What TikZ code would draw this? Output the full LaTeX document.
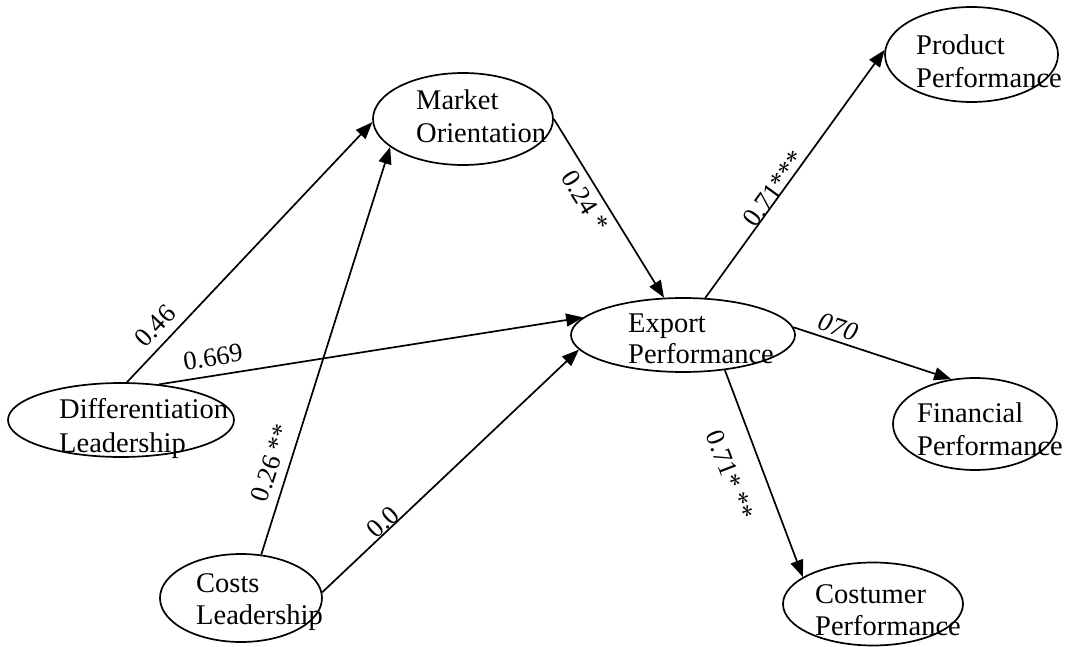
\documentclass[tikz,border=0pt]{standalone}
\usepackage{fontspec}
\setmainfont{Liberation Serif}
\usetikzlibrary{shapes.geometric,arrows.meta}
\begin{document}
\begin{tikzpicture}[x=1pt,y=-1pt,
  ell/.style={draw, ellipse, line width=1.7pt, inner sep=0pt},
  txt/.style={anchor=base west, inner sep=0pt, font=\fontsize{28.5}{33}\selectfont},
  lbl/.style={inner sep=0pt, font=\fontsize{26.5}{30}\selectfont},
  arr/.style={line width=1.7pt, -{Triangle[length=17pt,width=13pt]}}]
\fill[white] (0,0) rectangle (1071,647);
\useasboundingbox (0,0) rectangle (1071,647);
% ellipses
\node[ell, minimum width=180pt, minimum height=92pt] (M) at (463,119) {};
\node[ell, minimum width=173pt, minimum height=95pt] (P) at (971.5,54.5) {};
\node[ell, minimum width=224pt, minimum height=74pt] (E) at (683,335) {};
\node[ell, minimum width=226pt, minimum height=74pt] (D) at (121,420) {};
\node[ell, minimum width=164pt, minimum height=92pt] (F) at (975,424) {};
\node[ell, minimum width=162pt, minimum height=88pt] (C) at (241,598) {};
\node[ell, minimum width=180pt, minimum height=83pt] (U) at (873,604) {};
% texts
\node[txt] (m1) at (416,110) {Market};
\node[txt] (m2) at (416,143) {Orientation};
\node[txt] (p1) at (916,55) {Product};
\node[txt] (p2) at (916,88) {Performance};
\node[txt] (e1) at (628,332) {Export};
\node[txt] (e2) at (628,363) {Performance};
\node[txt] (d1) at (59,418) {Differentiation};
\node[txt] (d2) at (59,452) {Leadership};
\node[txt] (f1) at (917,422) {Financial};
\node[txt] (f2) at (917,455) {Performance};
\node[txt] (c1) at (196,592) {Costs};
\node[txt] (c2) at (196,624) {Leadership};
\node[txt] (u1) at (815,603) {Costumer};
\node[txt] (u2) at (815,635) {Performance};
% connectors
\draw[arr] (D.81) -- (M.182);
\draw[arr] (D.43) -- (E.170);
\draw[arr] (C.65) -- (M.201);
\draw[arr] (C.4) -- (E.188);
\draw[arr] (M.0) -- (E.117);
\draw[arr] (E.59) -- (P.177);
\draw[arr] (E.4) -- (F.118);
\draw[arr] (E.-40) -- (U.159);
% labels
\node[lbl, rotate=46.6] (l1) at (155,326) {0.46};
\node[lbl, rotate=8.8] (l2) at (213,357) {0.669};
\node[lbl, rotate=72] (l3) at (271,463) {0.26 **};
\node[lbl, rotate=43] (l4) at (383,522) {0.0};
\node[lbl, rotate=-58] (l5) at (585,201) {0.24 *};
\node[lbl, rotate=54] (l6) at (774,189) {0.71***};
\node[lbl, rotate=-18.5] (l7) at (838,327) {\textit{070}};
\node[lbl, rotate=-69] (l8) at (730,475) {0.71* **};
\end{tikzpicture}
\end{document}
